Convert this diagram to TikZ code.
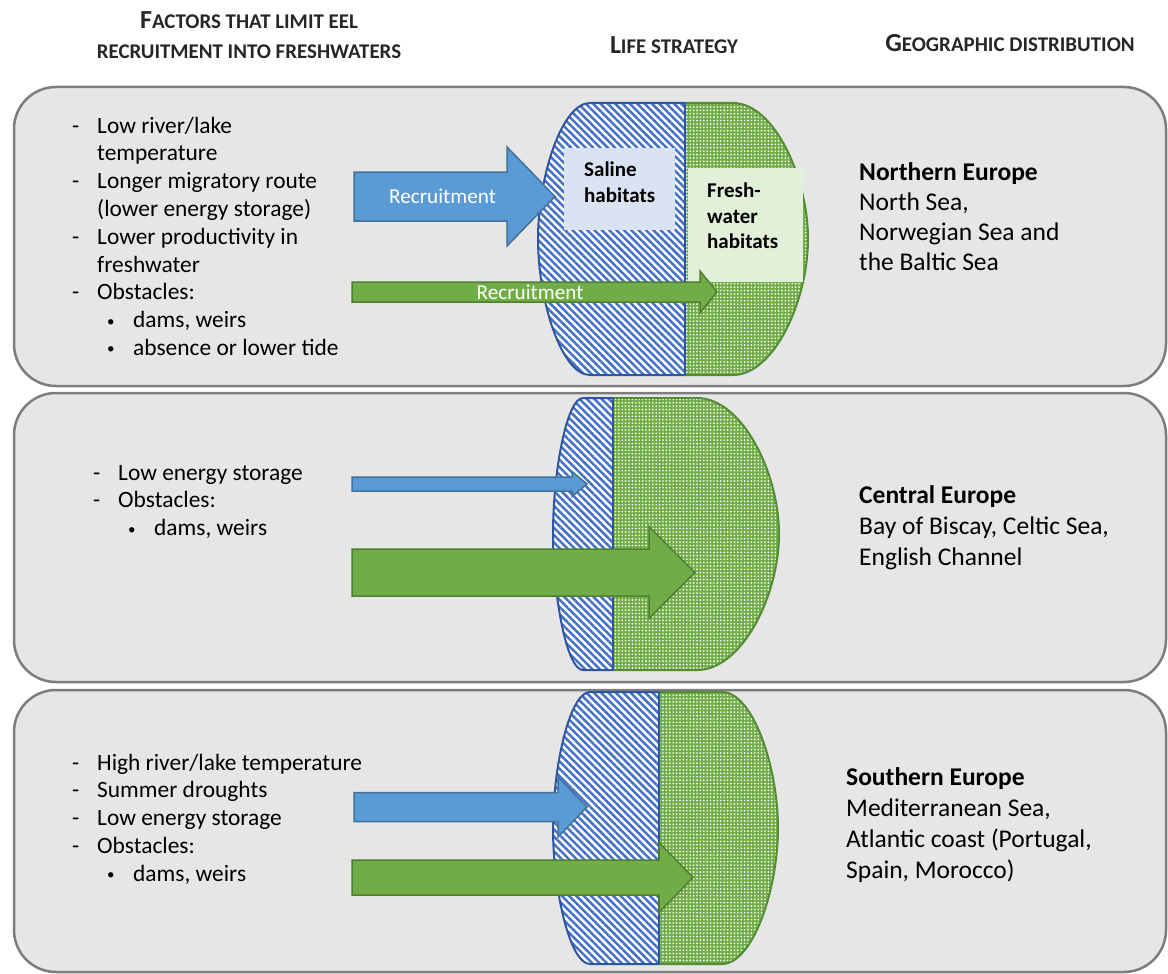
\documentclass[tikz,border=0pt]{standalone}
\usepackage{fontspec}
\setmainfont{Carlito}
\usetikzlibrary{patterns.meta}

\definecolor{panelfill}{RGB}{231,230,230}
\definecolor{panelgray}{RGB}{125,125,125}
\definecolor{arrblue}{RGB}{91,155,213}
\definecolor{arrblueedge}{RGB}{65,113,156}
\definecolor{arrgreen}{RGB}{112,173,71}
\definecolor{arrgreenedge}{RGB}{80,126,50}
\definecolor{hatchblue}{RGB}{68,114,196}
\definecolor{saltline}{RGB}{47,85,160}
\definecolor{freshline}{RGB}{84,140,53}
\definecolor{salinefill}{RGB}{218,227,243}
\definecolor{freshfill}{RGB}{226,240,217}
\definecolor{headgray}{RGB}{38,38,38}

% fake small caps for the column heads
\newcommand\hdsc[2]{{\fontsize{26}{30}\selectfont #1}{\fontsize{20.9}{30}\selectfont #2}}
\newcommand\dashitem{\makebox[25pt][l]{-}}
\newcommand\contitem{\hspace*{25pt}}
\newcommand\bulitem{\hspace*{35pt}\makebox[26pt][l]{\raisebox{1.5pt}{\fontsize{15}{15}\selectfont\textbullet}}}

% outline of a habitat body: L D R T B a c
\newcommand\habpath[7]{({#1+#6},#4) -- ({#3-#7},#4) .. controls ({#3-0.45*#7},#4) and (#3,{#4+0.275*(#5-#4)}) .. (#3,{0.5*(#4+#5)}) .. controls (#3,{#5-0.275*(#5-#4)}) and ({#3-0.45*#7},#5) .. ({#3-#7},#5) -- ({#1+#6},#5) .. controls ({#1+0.45*#6},#5) and (#1,{#5-0.275*(#5-#4)}) .. (#1,{0.5*(#4+#5)}) .. controls (#1,{#4+0.275*(#5-#4)}) and ({#1+0.45*#6},#4) .. ({#1+#6},#4) -- cycle}
\newcommand\habitat[7]{%
\begin{scope}
\clip ({#1-6},{#4-6}) rectangle (#2,{#5+6});
\fill[white] \habpath{#1}{#2}{#3}{#4}{#5}{#6}{#7};
\fill[salt] \habpath{#1}{#2}{#3}{#4}{#5}{#6}{#7};
\draw[saltedge] \habpath{#1}{#2}{#3}{#4}{#5}{#6}{#7};
\end{scope}
\begin{scope}
\clip (#2,{#4-6}) rectangle ({#3+6},{#5+6});
\fill[arrgreen] \habpath{#1}{#2}{#3}{#4}{#5}{#6}{#7};
\fill[fresh] \habpath{#1}{#2}{#3}{#4}{#5}{#6}{#7};
\draw[freshedge] \habpath{#1}{#2}{#3}{#4}{#5}{#6}{#7};
\end{scope}
\draw[saltedge] (#2,#4)--(#2,#5);}
% block arrow: style x0 tip yc shaft head headlength
\newcommand\recarrow[7]{\draw[#1] (#2,{#4-#5})--({#3-#7},{#4-#5})--({#3-#7},{#4-#6})--(#3,#4)--({#3-#7},{#4+#6})--({#3-#7},{#4+#5})--(#2,{#4+#5})--cycle;}

\tikzset{
panel/.style={draw=panelgray,line width=2.5pt,fill=panelfill,rounded corners=42pt},
salt/.style={pattern={Lines[angle=-45,distance=5.2pt,line width=2.5pt]},pattern color=hatchblue},
fresh/.style={pattern={Dots[distance=3.4pt,radius=0.95pt]},pattern color=white},
saltedge/.style={draw=saltline,line width=2pt},
freshedge/.style={draw=freshline,line width=2pt},
bluearr/.style={fill=arrblue,draw=arrblueedge,line width=1.5pt},
greenarr/.style={fill=arrgreen,draw=arrgreenedge,line width=1.5pt},
listtext/.style={anchor=base west,inner sep=0pt,font=\fontsize{23.4}{28}\selectfont},
regiontext/.style={anchor=base west,inner sep=0pt,font=\fontsize{25.5}{30}\selectfont},
labtext/.style={anchor=base west,inner sep=0pt,font=\fontsize{21}{26}\selectfont\bfseries},
arrtext/.style={inner sep=0pt,text=white,font=\fontsize{21.2}{26}\selectfont},
headtext/.style={anchor=base,inner sep=0pt,text=headgray,font=\bfseries}
}

\begin{document}
\begin{tikzpicture}[x=1pt,y=-1pt]
\useasboundingbox (0,0) rectangle (1168,974);

% column heads
\node[headtext] (hfac1) at (249,29) {\hdsc{F}{ACTORS THAT LIMIT EEL}};
\node[headtext] (hfac2) at (249,59) {\hdsc{}{RECRUITMENT INTO FRESHWATERS}};
\node[headtext] (hlife) at (674,54) {\hdsc{L}{IFE STRATEGY}};
\node[headtext] (hgeo) at (1010,52) {\hdsc{G}{EOGRAPHIC DISTRIBUTION}};

% panels
\draw[panel] (14,87) rectangle (1166,386);
\draw[panel] (14,393) rectangle (1166,682);
\draw[panel] (14,690) rectangle (1166,972);

% northern
\habitat{538}{685}{808}{103}{375}{52}{75}
\node[fill=salinefill,minimum width=111pt,minimum height=82pt,inner sep=0pt] (salbox) at (619.5,189) {};
\node[fill=freshfill,minimum width=115pt,minimum height=114pt,inner sep=0pt] (frbox) at (745.5,225) {};
\node[labtext] (sal1) at (584,176) {Saline};
\node[labtext] (sal2) at (584,202) {habitats};
\node[labtext] (fr1) at (707,197) {Fresh-};
\node[labtext] (fr2) at (707,223) {water};
\node[labtext] (fr3) at (707,248) {habitats};
\recarrow{bluearr}{354}{555}{196.5}{24.5}{49.5}{48}
\recarrow{greenarr}{352}{717}{292}{10}{21}{17}
\node[arrtext] (recA) at (442.5,196.5) {Recruitment};
\node[arrtext] (recB) at (530,292) {Recruitment};
\foreach \txt [count=\i] in {{\dashitem Low river/lake},{\contitem temperature},{\dashitem Longer migratory route},{\contitem (lower energy storage)},{\dashitem Lower productivity in},{\contitem freshwater},{\dashitem Obstacles:},{\bulitem dams, weirs},{\bulitem absence or lower tide}}
  \node[listtext] (fn\i) at (72,{105.2+27.8*\i}) {\txt};
\foreach \txt [count=\i] in {{\textbf{Northern Europe}},{North Sea,},{Norwegian Sea and},{the Baltic Sea}}
  \node[regiontext] (rn\i) at (859,{150+30*\i}) {\txt};

% central
\habitat{553}{613}{779}{398}{670}{30}{82}
\recarrow{bluearr}{352}{587}{484}{7}{12.5}{15}
\recarrow{greenarr}{352}{695}{572.5}{23.5}{46}{46}
\foreach \txt [count=\i] in {{\dashitem Low energy storage},{\dashitem Obstacles:},{\bulitem dams, weirs}}
  \node[listtext] (fc\i) at (93,{452.2+27.8*\i}) {\txt};
\foreach \txt [count=\i] in {{\textbf{Central Europe}},{Bay of Biscay, Celtic Sea,},{English Channel}}
  \node[regiontext] (rc\i) at (859,{472+31*\i}) {\txt};

% southern
\habitat{553}{659}{778}{692}{964}{37}{56}
\recarrow{bluearr}{354}{587}{807}{14.5}{30}{29}
\recarrow{greenarr}{352}{693}{877.5}{17.5}{35}{34}
\foreach \txt [count=\i] in {{\dashitem High river/lake temperature},{\dashitem Summer droughts},{\dashitem Low energy storage},{\dashitem Obstacles:},{\bulitem dams, weirs}}
  \node[listtext] (fs\i) at (72,{742.2+27.8*\i}) {\txt};
\foreach \txt [count=\i] in {{\textbf{Southern Europe}},{Mediterranean Sea,},{Atlantic coast (Portugal,},{Spain, Morocco)}}
  \node[regiontext] (rs\i) at (846,{754+31*\i}) {\txt};
\end{tikzpicture}
\end{document}
